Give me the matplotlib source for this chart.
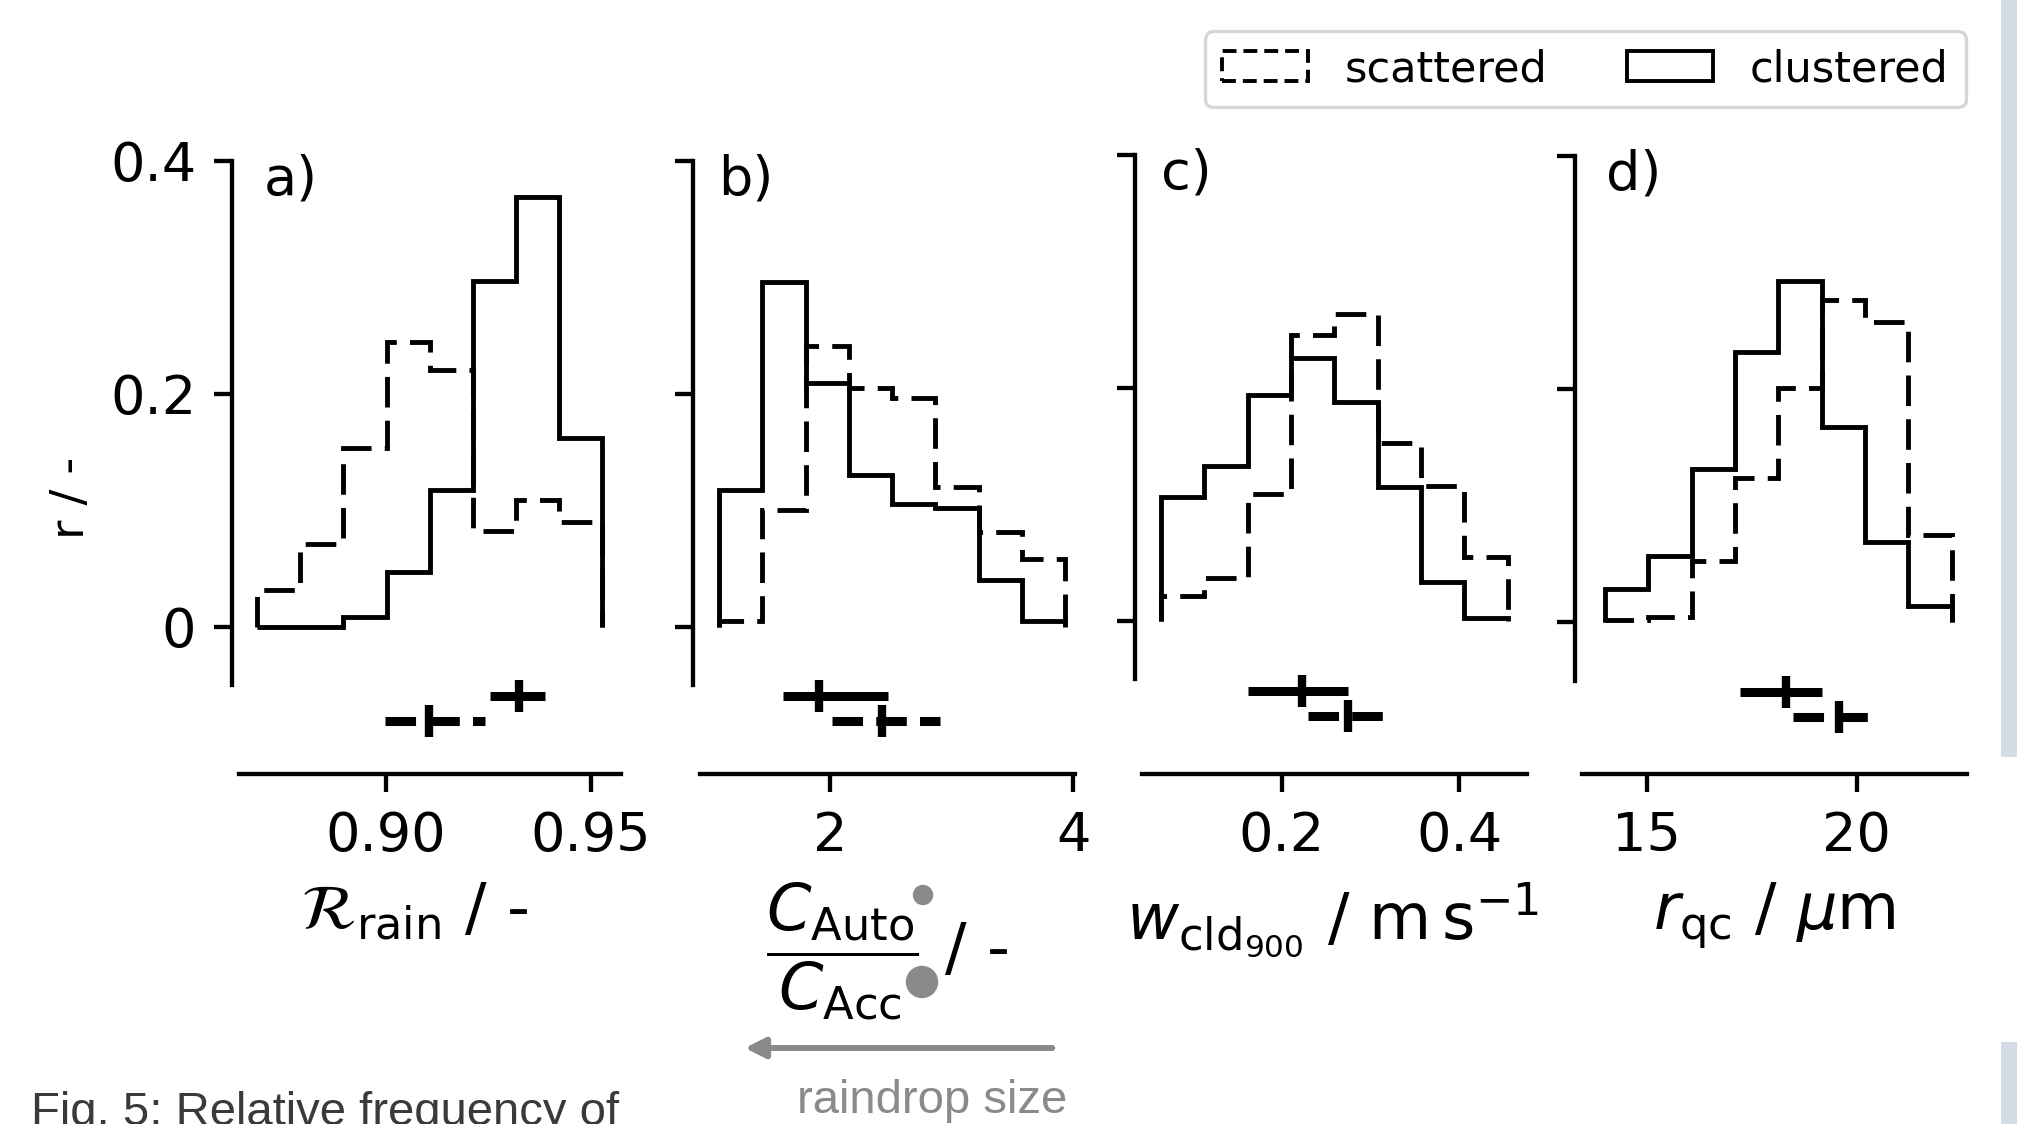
import numpy as np
import matplotlib.pyplot as plt
from matplotlib.patches import Patch, Ellipse, FancyArrowPatch, Rectangle

plt.rcParams['font.family'] = 'DejaVu Sans'
plt.rcParams['mathtext.fontset'] = 'dejavusans'
plt.rcParams['lines.scale_dashes'] = False

# histogram range of each panel (8 equal bins)
bin_lo = [0.8687, 1.090, 0.0641, 14.007]
bin_hi = [0.9527, 3.9315, 0.4544, 22.262]

# relative frequency per bin
clustered = [
    [0.0, 0.0, 0.008, 0.047, 0.117, 0.297, 0.369, 0.162],
    [0.117, 0.296, 0.209, 0.130, 0.105, 0.102, 0.040, 0.005],
    [0.107, 0.133, 0.194, 0.226, 0.188, 0.115, 0.034, 0.003],
    [0.029, 0.057, 0.132, 0.232, 0.293, 0.168, 0.069, 0.014],
]
scattered = [
    [0.031, 0.071, 0.153, 0.244, 0.220, 0.082, 0.109, 0.090],
    [0.005, 0.100, 0.241, 0.205, 0.196, 0.120, 0.081, 0.058],
    [0.022, 0.037, 0.109, 0.246, 0.264, 0.153, 0.116, 0.055],
    [0.002, 0.005, 0.053, 0.124, 0.201, 0.277, 0.258, 0.075],
]

# mean and spread shown below the histograms
clu_mean = [0.9324, 1.912, 0.2232, 18.31]
clu_lo = [0.9254, 1.616, 0.1617, 17.22]
clu_hi = [0.9389, 2.479, 0.275, 19.17]
sca_mean = [0.9106, 2.425, 0.2743, 19.585]
sca_lo = [0.8998, 2.014, 0.230, 18.49]
sca_hi = [0.9242, 2.904, 0.3257, 20.44]

xticks = [[0.90, 0.95], [2, 4], [0.2, 0.4], [15, 20]]
xticklabels = [['0.90', '0.95'], ['2', '4'], ['0.2', '0.4'], ['15', '20']]
xlims = [(0.8643, 0.9573), (0.9315, 4.0137), (0.0424, 0.4758), (13.452, 22.619)]
yticks = [0, 0.2, 0.4]
yticklabels = ['0', '0.2', '0.4']
xlabels = [r'$\mathcal{R}_\mathrm{rain}$ / -',
           r'$\dfrac{C_\mathrm{Auto}}{C_\mathrm{Acc}}$ / -',
           r'$w_{\mathrm{cld}_{900}}$ / $\mathrm{m\,s^{-1}}$',
           r'$r_\mathrm{qc}$ / $\mu$m']
letters = ['a)', 'b)', 'c)', 'd)']

W, H = 2030, 1124
fig = plt.figure(figsize=(W / 100, H / 100), dpi=100)

# axes boxes in pixels: left, right, top (value 0.4); bottom is the x axis
boxes = [(239.3, 620.7, 160.6), (700, 1075, 160.6),
         (1141.7, 1526.7, 155.2), (1581.7, 1966.7, 156.4)]
ybot_px = 774
px_per_unit = 1165
letter_x = [0.063, 0.048, 0.051, 0.064]
xlabel_x = [0.46, 0.5, 0.495, 0.5]

lw_hist = 3.5
lw_ax = 3.1
dash = (0, (22, 9.5))

for i in range(4):
    l, r, t = boxes[i]
    ax = fig.add_axes([l / W, 1 - ybot_px / H, (r - l) / W, (ybot_px - t) / H])
    ymin = 0.4 - (ybot_px - t) / px_per_unit
    edges = np.linspace(bin_lo[i], bin_hi[i], 9)
    ax.stairs(scattered[i], edges, color='k', lw=lw_hist, linestyle=dash)
    ax.stairs(clustered[i], edges, color='k', lw=lw_hist)

    # mean / spread bars
    ax.plot([clu_lo[i], clu_hi[i]], [-0.06, -0.06], color='k', lw=6.5, solid_capstyle='butt')
    ax.plot([clu_mean[i]], [-0.06], marker='|', ms=23, mew=6, color='k')
    ax.plot([sca_lo[i], sca_hi[i]], [-0.081, -0.081], color='k', lw=6.5,
            linestyle=dash, dash_capstyle='butt')
    ax.plot([sca_mean[i]], [-0.081], marker='|', ms=23, mew=6, color='k')

    ax.set_xlim(*xlims[i])
    ax.set_ylim(ymin, 0.4)
    for s in ['top', 'right']:
        ax.spines[s].set_visible(False)
    for s in ['left', 'bottom']:
        ax.spines[s].set_linewidth(lw_ax)
    ax.spines['left'].set_bounds(-0.05, 0.4)
    ax.spines['left'].set_position(('outward', 5))
    ax.set_yticks(yticks)
    if i == 0:
        ax.set_yticklabels(yticklabels)
    else:
        ax.tick_params(axis='y', labelleft=False)
    ax.set_xticks(xticks[i])
    ax.set_xticklabels(xticklabels[i])
    ax.tick_params(length=13, width=lw_ax, pad=13, labelsize=39)
    ax.set_xlabel(xlabels[i], fontsize=46, labelpad=13)
    ax.xaxis.label.set_x(xlabel_x[i])
    ax.text(letter_x[i], 1.012, letters[i], transform=ax.transAxes,
            va='top', ha='left', fontsize=39)

fig.text(72 / W, 1 - 498 / H, 'r / -', rotation=90, ha='center', va='center', fontsize=34)

handles = [Patch(facecolor='none', edgecolor='k', lw=2.8, linestyle=(0, (10, 5))),
           Patch(facecolor='none', edgecolor='k', lw=2.8)]
leg = fig.legend(handles, ['scattered', 'clustered'], loc='upper right',
                 bbox_to_anchor=(1966 / W, 1 - 31 / H), borderaxespad=0, ncol=2,
                 fontsize=31, handlelength=2.0, handletextpad=0.85, columnspacing=1.85)
leg.get_frame().set_linewidth(2.4)

# poster decorations around the figure
grey = '#8a8a8a'
fig.add_artist(Ellipse((923 / W, 1 - 895 / H), 19 / W, 19 / H, color=grey))
fig.add_artist(Ellipse((922 / W, 1 - 982 / H), 31 / W, 31 / H, color=grey))
fig.add_artist(FancyArrowPatch((1055 / W, 1 - 1048 / H), (742 / W, 1 - 1048 / H),
                               transform=fig.transFigure, arrowstyle='-|>,head_length=0.6,head_width=0.3',
                               mutation_scale=20, lw=4.3, color=grey))
fig.text(932 / W, 1 - 1113 / H, 'raindrop size', ha='center', va='baseline',
         family='Liberation Sans', fontsize=34, color=grey)
fig.text(31 / W, 1 - 1125 / H, 'Fig. 5: Relative frequency of', ha='left', va='baseline',
         family='Liberation Sans', fontsize=34, color='#3a3a3a')
fig.add_artist(Rectangle((2001 / W, 1 - 757 / H), 16 / W, 757 / H, color='#d4dce6', lw=0))
fig.add_artist(Rectangle((2001 / W, 0), 16 / W, 82 / H, color='#d4dce6', lw=0))

fig.savefig('out.png', dpi=100)
